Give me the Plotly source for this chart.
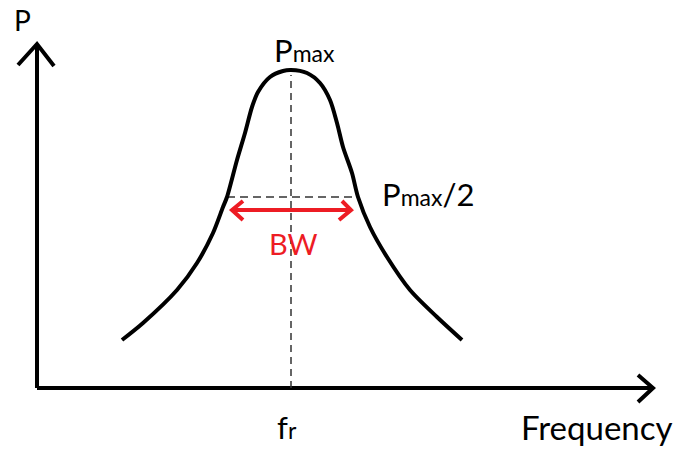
import plotly.graph_objects as go

# Resonance curve: frequency offset from f_r and power (arbitrary units)
freq = [-169, -148, -114, -94, -78, -68, -64, -54, -46, -39, -33, -21, -8, 0,
        16, 29, 39, 46, 52, 61, 67, 79, 96, 119, 146, 171]
power = [48, 65, 98, 125, 155, 181, 191, 228, 255, 281, 296, 311, 317, 318,
         315, 305, 288, 265, 241, 215, 191, 161, 131, 98, 71, 48]

p_max = 318
p_half = 191              # level of the Pmax/2 line as drawn
bw_low, bw_high = -64, 67  # half-power frequencies
arrow_low, arrow_high = -59, 60
arrow_level = 178

x_axis_min, x_axis_max = -254, 362
y_axis_max = 344

font = "Lato, 'Open Sans', sans-serif"
RED = "#ED1C24"

fig = go.Figure()

# axes with arrow heads
fig.add_trace(go.Scatter(x=[x_axis_min, x_axis_min], y=[0, y_axis_max], mode="lines",
                         line=dict(color="black", width=4), hoverinfo="skip"))
fig.add_trace(go.Scatter(x=[x_axis_min - 19, x_axis_min, x_axis_min + 17],
                         y=[y_axis_max - 21, y_axis_max, y_axis_max - 22], mode="lines",
                         line=dict(color="black", width=4), hoverinfo="skip"))
fig.add_trace(go.Scatter(x=[x_axis_min, x_axis_max], y=[0, 0], mode="lines",
                         line=dict(color="black", width=4), hoverinfo="skip"))
fig.add_trace(go.Scatter(x=[x_axis_max - 15, x_axis_max, x_axis_max - 15],
                         y=[13, 0, -14], mode="lines",
                         line=dict(color="black", width=4), hoverinfo="skip"))

# dashed guide lines
fig.add_trace(go.Scatter(x=[0, 0], y=[0, p_max - 5], mode="lines",
                         line=dict(color="#333333", width=1.5, dash="7px,5px"), hoverinfo="skip"))
fig.add_trace(go.Scatter(x=[bw_low, bw_high], y=[p_half, p_half], mode="lines",
                         line=dict(color="#333333", width=1.5, dash="8px,5px"), hoverinfo="skip"))

# resonance curve
fig.add_trace(go.Scatter(x=freq, y=power, mode="lines",
                         line=dict(color="black", width=4, shape="spline", smoothing=0.8),
                         hoverinfo="skip"))

# red BW double arrow
fig.add_trace(go.Scatter(x=[arrow_low, arrow_high], y=[arrow_level, arrow_level], mode="lines",
                         line=dict(color=RED, width=4), hoverinfo="skip"))
fig.add_trace(go.Scatter(x=[arrow_low + 11, arrow_low, arrow_low + 11],
                         y=[arrow_level + 9, arrow_level, arrow_level - 10], mode="lines",
                         line=dict(color=RED, width=4), hoverinfo="skip"))
fig.add_trace(go.Scatter(x=[arrow_high - 9, arrow_high, arrow_high - 12],
                         y=[arrow_level + 9, arrow_level, arrow_level - 10], mode="lines",
                         line=dict(color=RED, width=4), hoverinfo="skip"))

def label(x, y, text, color="black", xanchor="center", yanchor="middle", size=29):
    fig.add_annotation(x=x, y=y, text=text, showarrow=False, xanchor=xanchor, yanchor=yanchor,
                       font=dict(family=font, size=size, color=color))

def small(t):
    return "<span style='font-size:23px'>" + t + "</span>"

label(-269, 368, "P", size=28)
label(13, 338, "P" + small("max"), size=31)
label(89, 194, "P" + small("max") + "/2", xanchor="left", size=31)
label(2, 145, "BW", color=RED, size=29)
label(-4, -39, "f" + small("r"), size=31)
label(384, -39, "Frequency", xanchor="right", size=33)

fig.update_layout(
    width=680, height=452,
    margin=dict(l=0, r=0, t=0, b=0),
    paper_bgcolor="white", plot_bgcolor="white",
    showlegend=False,
    xaxis=dict(range=[-291, 389], visible=False, fixedrange=True),
    yaxis=dict(range=[-64, 388], visible=False, fixedrange=True),
)

# remove the browser's default 8px body margin so the figure fills the window
fig.write_html("out.html", config={"displayModeBar": False},
               post_script="document.body.style.margin='0px';")
